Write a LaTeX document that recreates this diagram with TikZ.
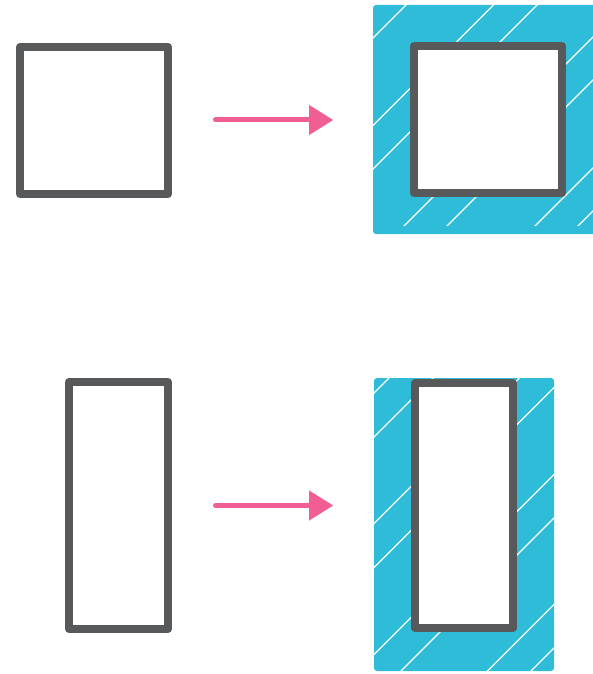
\documentclass[tikz,border=0pt]{standalone}
\usetikzlibrary{arrows.meta}
\definecolor{boxgray}{RGB}{88,89,91}
\definecolor{arrowpink}{RGB}{240,94,148}
\definecolor{padblue}{RGB}{46,188,216}
\begin{document}
\begin{tikzpicture}[x=1pt,y=-1pt,
  box/.style={draw=boxgray, line width=8pt, fill=white, line join=round, inner sep=0pt, outer sep=0pt},
  pad/.style={fill=padblue, rounded corners=3pt},
  hatchline/.style={draw=white, line width=1.1pt},
  conn/.style={draw=arrowpink, line width=5pt, line cap=round, -{Triangle[length=24pt,width=30pt,line width=0.01pt]}}]
\useasboundingbox (0,0) rectangle (593,674);
% top pad with hatching
\fill[pad] (373,5) rectangle (600,234);
\begin{scope}
  \clip (373,5) rectangle (593,225);
  \foreach \c in {367,411,498.5,542,630,673,761,804}
    \draw[hatchline] (\c-300,300) -- (\c,0);
\end{scope}
% bottom pad with hatching
\fill[pad] (374,378) rectangle (554,671);
\begin{scope}
  \clip[rounded corners=3pt] (374,378) rectangle (554,671);
  \foreach \c in {767,811,897.5,941.5,1028.5,1072,1158.5,1202}
    \draw[hatchline] (\c-700,700) -- (\c,0);
\end{scope}
% boxes
\node[box, minimum width=148pt, minimum height=147pt] (sqL) at (94,120.5) {};
\node[box, minimum width=148pt, minimum height=147pt] (sqR) at (488,119.5) {};
\node[box, minimum width=99pt, minimum height=247pt] (reL) at (118.5,505.5) {};
\node[box, minimum width=98pt, minimum height=245pt] (reR) at (464,505.5) {};
% arrows
\coordinate (a1s) at (215.5,120);
\coordinate (a1e) at (333,120);
\coordinate (a2s) at (215.5,505.5);
\coordinate (a2e) at (333,505.5);
\draw[conn] (a1s) -- (a1e);
\draw[conn] (a2s) -- (a2e);
\end{tikzpicture}
\end{document}
